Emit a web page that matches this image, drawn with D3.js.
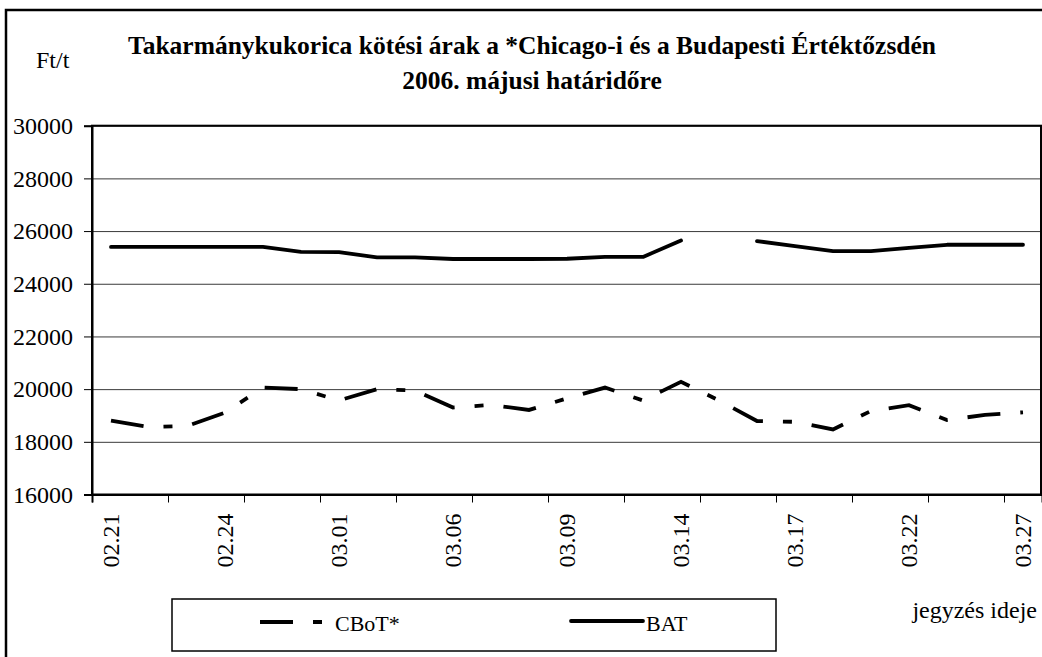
<!DOCTYPE html>
<html>
<head>
<meta charset="utf-8">
<script src="https://cdn.jsdelivr.net/npm/d3@7"></script>
<style>
  body { margin: 0; background: #fff; }
  svg { display: block; }
  svg text { font-family: "Liberation Serif", "Times New Roman", Tinos, "DejaVu Serif", serif; fill: #000; }
</style>
</head>
<body>
<svg id="chart" width="1042" height="657"></svg>
<script>
// trading days (03.15 is a holiday in Budapest, BAT has no quote)
const dates = ["02.21", "02.22", "02.23", "02.24", "02.27", "02.28", "03.01", "03.02",
  "03.03", "03.06", "03.07", "03.08", "03.09", "03.10", "03.13", "03.14", "03.15",
  "03.16", "03.17", "03.20", "03.21", "03.22", "03.23", "03.24", "03.27"];

const labelDates = ["02.21", "02.24", "03.01", "03.06", "03.09", "03.14", "03.17", "03.22", "03.27"];

const cbot = [18800, 18560, 18600, 19110, 20060, 20000, 19570, 20000, 19950, 19300,
  19400, 19210, 19650, 20060, 19570, 20280, 19570, 18790, 18760, 18470,
  19170, 19390, 18830, 19020, 19120];

const bat = [25400, 25400, 25400, 25400, 25400, 25210, 25200, 25000, 25000, 24940,
  24940, 24940, 24950, 25020, 25020, 25640, null, 25620, 25430, 25240,
  25240, 25360, 25480, 25480, 25480];

const yTicks = [16000, 18000, 20000, 22000, 24000, 26000, 28000, 30000];

const svg = d3.select("#chart");
const plotLeft = 92, plotRight = 1042, plotTop = 125.7, plotBottom = 494.5;

const x = d3.scaleBand().domain(dates).range([plotLeft, plotRight]);
const xb = d3.scaleLinear().domain([0, dates.length]).range([plotLeft, plotRight]);
const y = d3.scaleLinear().domain([16000, 30000]).range([plotBottom, plotTop]);
const cx = d => x(d) + x.bandwidth() / 2;

// outer frame
svg.append("rect")
  .attr("x", 6).attr("y", 10)
  .attr("width", 1060).attr("height", 700)
  .attr("fill", "none").attr("stroke", "#000").attr("stroke-width", 2.5);

// gridlines
svg.append("g")
  .attr("transform", `translate(${plotLeft},0)`)
  .call(d3.axisLeft(y).tickValues(yTicks).tickSize(-(plotRight - plotLeft)).tickFormat(""))
  .call(g => g.select(".domain").remove())
  .call(g => g.selectAll("line").attr("stroke", "#3a3a3a").attr("stroke-width", 1));

// plot border
svg.append("rect")
  .attr("x", plotLeft).attr("y", plotTop)
  .attr("width", plotRight - plotLeft - 1).attr("height", plotBottom - plotTop)
  .attr("fill", "none").attr("stroke", "#000").attr("stroke-width", 2);

// y axis
svg.append("g")
  .attr("transform", `translate(${plotLeft},0)`)
  .call(d3.axisLeft(y).tickValues(yTicks).tickSize(8).tickPadding(11).tickFormat(d3.format("d")))
  .call(g => g.select(".domain").attr("stroke-width", 2))
  .call(g => g.selectAll("text").attr("font-family", null).attr("font-size", 24));

// x ticks (every second day boundary)
svg.append("g")
  .attr("transform", `translate(0,${plotBottom})`)
  .call(d3.axisBottom(xb).tickValues(d3.range(0, 25, 2)).tickSize(8).tickFormat(""))
  .call(g => g.select(".domain").attr("stroke-width", 2));

// x labels
svg.append("g")
  .attr("transform", `translate(0,${plotBottom})`)
  .call(d3.axisBottom(x).tickValues(labelDates).tickSize(0))
  .call(g => g.select(".domain").remove())
  .call(g => g.selectAll("text")
    .attr("font-family", null)
    .attr("font-size", 24)
    .attr("text-anchor", "end")
    .attr("transform", "rotate(-90)")
    .attr("x", -19).attr("y", 0).attr("dy", "0.35em"));

// lines
const line = d3.line()
  .defined(d => d.v != null)
  .x(d => cx(d.date))
  .y(d => y(d.v));

svg.append("path")
  .datum(dates.map((d, i) => ({date: d, v: cbot[i]})))
  .attr("d", line)
  .attr("fill", "none")
  .attr("stroke", "#000")
  .attr("stroke-width", 3.8)
  .attr("stroke-dasharray", "33,20,9,20");

svg.append("path")
  .datum(dates.map((d, i) => ({date: d, v: bat[i]})))
  .attr("d", line)
  .attr("fill", "none")
  .attr("stroke", "#000")
  .attr("stroke-width", 3.8)
  .attr("stroke-linecap", "round")
  .attr("stroke-linejoin", "round");

// titles
svg.append("text")
  .attr("x", 532).attr("y", 54)
  .attr("text-anchor", "middle")
  .attr("font-weight", "bold").attr("font-size", 25.5)
  .text("Takarmánykukorica kötési árak a *Chicago-i és a Budapesti Értéktőzsdén");

svg.append("text")
  .attr("x", 532).attr("y", 89)
  .attr("text-anchor", "middle")
  .attr("font-weight", "bold").attr("font-size", 25.5)
  .text("2006. májusi határidőre");

svg.append("text")
  .attr("x", 36).attr("y", 68)
  .attr("font-size", 24)
  .text("Ft/t");

svg.append("text")
  .attr("x", 1037).attr("y", 618)
  .attr("text-anchor", "end")
  .attr("font-size", 24)
  .text("jegyzés ideje");

// legend
const legend = svg.append("g");
legend.append("rect")
  .attr("x", 172).attr("y", 599)
  .attr("width", 604).attr("height", 52)
  .attr("fill", "#fff").attr("stroke", "#000").attr("stroke-width", 1.5);

legend.append("line")
  .attr("x1", 260).attr("x2", 322).attr("y1", 622).attr("y2", 622)
  .attr("stroke", "#000").attr("stroke-width", 3.8)
  .attr("stroke-dasharray", "33,20,9,20");
legend.append("text")
  .attr("x", 335).attr("y", 631)
  .attr("font-size", 22)
  .text("CBoT*");

legend.append("line")
  .attr("x1", 571).attr("x2", 643).attr("y1", 621).attr("y2", 621)
  .attr("stroke", "#000").attr("stroke-width", 3.8)
  .attr("stroke-linecap", "round");
legend.append("text")
  .attr("x", 646).attr("y", 631)
  .attr("font-size", 22)
  .text("BAT");
</script>
</body>
</html>
